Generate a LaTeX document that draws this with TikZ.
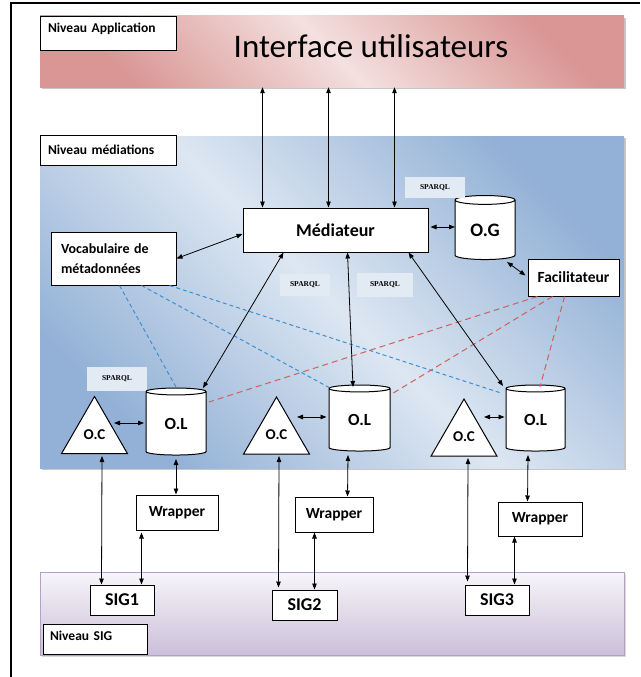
\documentclass[tikz,border=0pt]{standalone}
\usepackage{fontspec}
\setmainfont{Carlito}
\newfontfamily\sparqlfont{Liberation Serif}
\usetikzlibrary{arrows.meta,shapes.geometric,calc}

\definecolor{pinkdark}{HTML}{D99694}
\definecolor{pinklight}{HTML}{F3E0DF}
\definecolor{bluedark}{HTML}{93B1D6}
\definecolor{bluelight}{HTML}{DDE7F2}
\definecolor{purpletop}{HTML}{F7F5FA}
\definecolor{purplebot}{HTML}{CBBFD9}
\definecolor{purpleedge}{HTML}{B3A2C7}
\definecolor{dashblue}{HTML}{3D8FD4}
\definecolor{dashred}{HTML}{D0605C}
\definecolor{sparqlbg}{HTML}{E2EAF4}

\begin{document}
\begin{tikzpicture}[x=1pt,y=-1pt,
  link/.style={<->, >={Triangle[length=6pt,width=4.5pt]}, line width=0.8pt},
  bluedash/.style={dashblue, line width=1pt, dash pattern=on 4pt off 3pt},
  reddash/.style={dashred, line width=1pt, dash pattern=on 6pt off 4pt},
  band/.style={rectangle, inner sep=0pt},
  levelbox/.style={draw, line width=0.9pt, fill=white, inner xsep=8pt, inner ysep=0pt,
    align=left, font=\bfseries\fontsize{13.5}{15}\selectfont},
  whitebox/.style={draw, line width=1pt, fill=white, inner sep=0pt, font=\bfseries},
  sparql/.style={fill=sparqlbg, inner sep=0pt, font=\sparqlfont\bfseries\fontsize{7.5}{9}\selectfont},
  olstyle/.style={cylinder, shape border rotate=90, aspect=0.3, draw, fill=white,
    line width=1pt, inner sep=0pt, font=\bfseries\fontsize{17}{20}\selectfont},
  ocstyle/.style={regular polygon, regular polygon sides=3, draw, fill=white,
    line width=1pt, inner sep=0pt, minimum size=76, font=\bfseries\fontsize{15}{18}\selectfont}
]
\useasboundingbox (0,0) rectangle (640,677);
\fill[white] (0,0) rectangle (640,677);
% page frame, its right and bottom sides lie past the edges
\draw[line width=1.2pt] (11,677) -- (11,3) -- (640,3);

% ---- level bands with their soft shadows
\fill[black!22] (42,18) rectangle (626,89);
\node[band, minimum width=584, minimum height=71,
  top color=pinkdark, bottom color=pinkdark, middle color=pinklight, shading angle=-45]
  (app) at (332,51.5) {};
\fill[black!22] (42,138) rectangle (626,470);
\node[band, minimum width=584, minimum height=332,
  top color=bluedark, bottom color=bluedark, middle color=bluelight, shading angle=-45]
  (medband) at (332,302) {};
\fill[black!15] (42,574) rectangle (626,657);
\node[band, draw=purpleedge, line width=1pt, minimum width=584, minimum height=83,
  top color=purpletop, bottom color=purplebot]
  (sigband) at (332,613.5) {};

% ---- level labels
\node[levelbox, minimum width=136, minimum height=34, text width=120,
  text height=9pt, text depth=10pt] (lblapp) at (108,33) {Niveau Application};
\node[levelbox, minimum width=136, minimum height=30, text width=120] (lblmed) at (108,150) {Niveau médiations};
\node[levelbox, minimum width=104, minimum height=30, text width=90,
  inner xsep=7pt, text height=9pt, text depth=6pt] (lblsig) at (95,639) {Niveau SIG};

\node[inner sep=0pt, font=\fontsize{33}{36}\selectfont] (title) at (371,46) {Interface utilisateurs};

% ---- mediation level
\node[whitebox, minimum width=185, minimum height=44, font=\bfseries\fontsize{18}{20}\selectfont]
  (med) at (335.5,230) {Médiateur};
\node[olstyle, minimum width=60, minimum height=64, font=\bfseries\fontsize{19}{22}\selectfont]
  (og) at (485,230) {O.G};
\node[whitebox, minimum width=125, minimum height=53, inner xsep=10pt, text width=105,
  align=left, font=\bfseries\fontsize{14}{20}\selectfont]
  (voc) at (113.5,258.5) {Vocabulaire de\\métadonnées};
\node[whitebox, minimum width=91, minimum height=37, font=\bfseries\fontsize{15.5}{18}\selectfont]
  (fac) at (573.5,277.5) {Facilitateur};

\node[sparql, minimum width=60, minimum height=21] (sp1) at (435,187.5) {SPARQL};
\node[sparql, minimum width=50, minimum height=22] (sp2) at (305,285) {SPARQL};
\node[sparql, minimum width=56, minimum height=24] (sp3) at (385,285) {SPARQL};
\node[sparql, minimum width=60, minimum height=24] (sp4) at (117,379) {SPARQL};

\node[ocstyle] (oc1) at (94.5,434.5) {O.C};
\node[ocstyle] (oc2) at (276.5,435) {O.C};
\node[ocstyle] (oc3) at (464,437) {O.C};
\node[olstyle, minimum width=60, minimum height=67] (ol1) at (176,423.5) {O.L};
\node[olstyle, minimum width=61, minimum height=66] (ol2) at (359.5,420) {O.L};
\node[olstyle, minimum width=59, minimum height=66] (ol3) at (535.5,420) {O.L};

% ---- wrappers and sources
\node[whitebox, minimum width=82, minimum height=35, font=\bfseries\fontsize{15.5}{18}\selectfont]
  (w1) at (177,512.5) {Wrapper};
\node[whitebox, minimum width=78, minimum height=35, font=\bfseries\fontsize{15.5}{18}\selectfont]
  (w2) at (334,514.5) {Wrapper};
\node[whitebox, minimum width=84, minimum height=34, font=\bfseries\fontsize{15.5}{18}\selectfont]
  (w3) at (540,519) {Wrapper};
\node[whitebox, minimum width=64, minimum height=30, font=\bfseries\fontsize{18}{20}\selectfont]
  (s1) at (122,600) {SIG1};
\node[whitebox, minimum width=65, minimum height=30, font=\bfseries\fontsize{18}{20}\selectfont]
  (s2) at (304.5,605) {SIG2};
\node[whitebox, minimum width=64, minimum height=30, font=\bfseries\fontsize{18}{20}\selectfont]
  (s3) at (497,600) {SIG3};

% ---- dashed semantic links
\draw[bluedash] ($(voc.south west)+(69,0)$)  -- ($(ol1.center)+(0,-36.5)$);
\draw[bluedash] ($(voc.south west)+(91,0)$)  -- ($(ol2.center)+(-29.5,-32)$);
\draw[bluedash] ($(voc.south west)+(119,0)$) -- ($(ol3.center)+(-34.5,-27)$);
\draw[reddash] ($(fac.south west)+(10,0)$) -- ($(ol1.center)+(33,-21.5)$);
\draw[reddash] ($(fac.south west)+(25,0)$) -- ($(ol2.center)+(30.5,-25)$);
\draw[reddash] ($(fac.south west)+(37,0)$) -- ($(ol3.center)+(4.5,-33)$);

% ---- application <-> mediator
\coordinate (ma) at ($(med.north west)+(20,0)$);
\coordinate (mb) at ($(med.north west)+(86,0)$);
\coordinate (mc) at ($(med.north west)+(152,0)$);
\draw[link] (ma |- app.south) -- (ma);
\draw[link] (mb |- app.south) -- (mb);
\draw[link] (mc |- app.south) -- (mc);

% ---- mediator links
\draw[link] (voc.east) -- ($(med.west)+(0,4)$);
\draw[link] ($(med.east)+(2,-3)$) -- ($(og.center)+(-30,-3)$);
\draw[link] ($(og.center)+(22,32)$) -- ($(fac.west)+(-2,-2)$);
\draw[link] ($(med.south west)+(41,0)$)  -- ($(ol1.center)+(27,-35.5)$);
\draw[link] ($(med.south west)+(105,0)$) -- ($(ol2.center)+(-6.5,-33)$);
\draw[link] ($(med.south west)+(166,0)$) -- ($(ol3.center)+(-32.5,-34)$);

% ---- local ontologies
\draw[link] ($(oc1.center)+(19.5,-11.5)$) -- ($(ol1.center)+(-32,-0.5)$);
\draw[link] ($(oc2.center)+(20.5,-18)$) -- ($(ol2.center)+(-33,-3)$);
\draw[link] ($(oc3.center)+(20,-20)$) -- ($(ol3.center)+(-31,-3)$);

% ---- down to the sources
\draw[link] ($(oc1.center)+(7.5,21.5)$) -- ($(s1.north west)+(12,0)$);
\draw[link] ($(ol1.center)+(0,35.5)$) -- (w1.north -| ol1.center);
\draw[link] ($(w1.south west)+(6,2)$) -- ($(s1.north west)+(52,0)$);
\draw[link] ($(oc2.center)+(2.5,21)$) -- ($(s2.north west)+(7,-2)$);
\draw[link] ($(ol2.center)+(-11.5,35)$) -- ($(w2.north west)+(53,0)$);
\draw[link] ($(w2.south west)+(20,0)$) -- ($(s2.north west)+(43,0)$);
\draw[link] ($(oc3.center)+(4,21)$) -- ($(s3.north west)+(3,-3)$);
\draw[link] ($(ol3.center)+(-7.5,35)$) -- ($(w3.north west)+(30,0)$);
\draw[link] ($(w3.south west)+(17,0)$) -- ($(s3.north west)+(50,0)$);
\end{tikzpicture}
\end{document}
